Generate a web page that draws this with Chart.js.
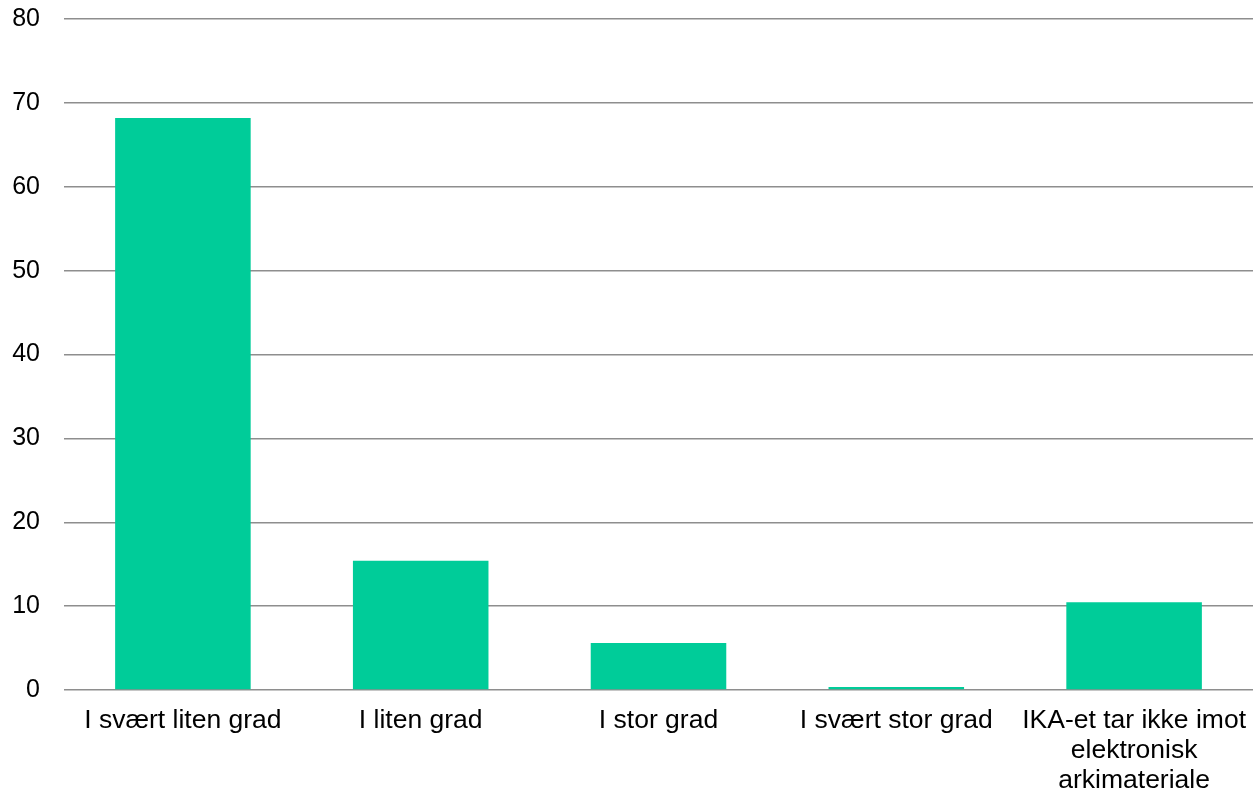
<!DOCTYPE html>
<html>
<head>
<meta charset="utf-8">
<script src="https://cdn.jsdelivr.net/npm/chart.js@4"></script>
<style>
html,body{margin:0;padding:0;background:#fff;}
#wrap{width:1254px;height:795px;position:relative;}
</style>
</head>
<body>
<div id="wrap"><canvas id="c" width="1254" height="795"></canvas></div>
<script>
const categories = [
  'I svært liten grad',
  'I liten grad',
  'I stor grad',
  'I svært stor grad',
  ['IKA-et tar ikke imot', 'elektronisk', 'arkimateriale']
];
const values = [68.2, 15.4, 5.6, 0.35, 10.45];
const yTicks = [0, 10, 20, 30, 40, 50, 60, 70, 80];

Chart.defaults.font.family = '"Liberation Sans", Arial, sans-serif';
Chart.defaults.font.size = 25;
Chart.defaults.color = '#000';

new Chart(document.getElementById('c'), {
  type: 'bar',
  data: {
    labels: categories,
    datasets: [{
      data: values,
      backgroundColor: '#00CC99',
      borderWidth: 0,
      barPercentage: 0.57,
      categoryPercentage: 1.0
    }]
  },
  options: {
    responsive: false,
    animation: false,
    layout: { padding: { top: 19, right: 1, left: 0, bottom: 0 } },
    plugins: { legend: { display: false }, tooltip: { enabled: false } },
    scales: {
      x: {
        grid: { display: false, drawTicks: false },
        border: { display: false },
        ticks: { padding: 16, maxRotation: 0, autoSkip: false, font: { size: 26.5, lineHeight: 1.13 } },
        afterFit: (s) => { s.height = 105; s.paddingLeft = 0; s.paddingRight = 0; }
      },
      y: {
        min: 0, max: 80,
        afterBuildTicks: (s) => { s.ticks = yTicks.map(v => ({ value: v })); },
        grid: { color: '#8e8e8e', lineWidth: 1.5, drawTicks: false },
        border: { display: false },
        ticks: { padding: 24, font: { size: 25 } },
        afterFit: (s) => { s.width = 64; s.paddingTop = 0; s.paddingBottom = 0; }
      }
    }
  }
});
</script>
</body>
</html>
